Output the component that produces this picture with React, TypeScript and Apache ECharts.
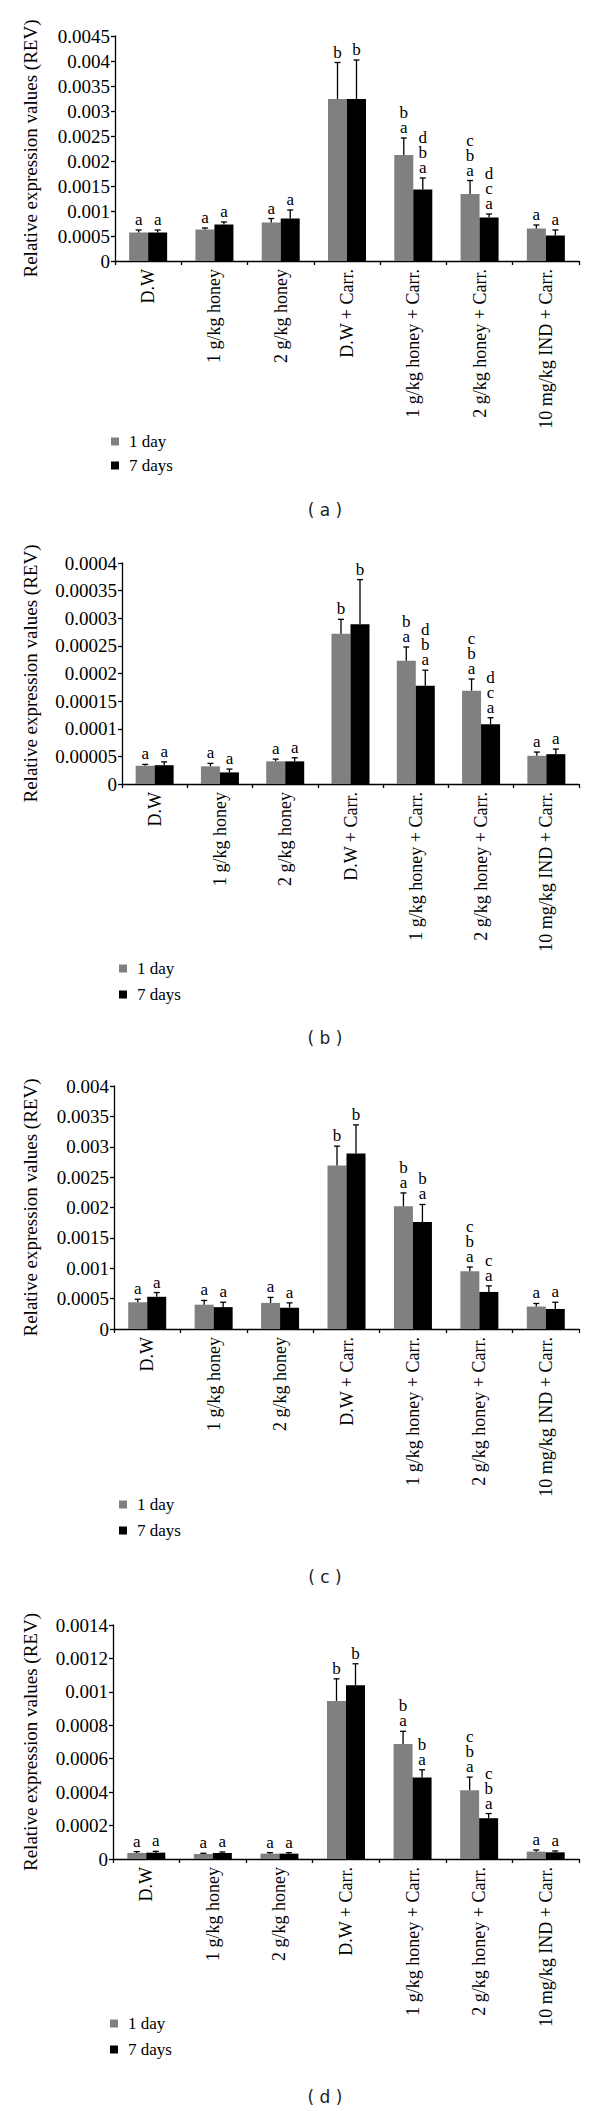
import React, { useEffect, useRef } from "react";
import * as echarts from "echarts";

// ---------- data ----------
const categories = [
  "D.W",
  "1 g/kg honey",
  "2 g/kg honey",
  "D.W + Carr.",
  "1 g/kg honey + Carr.",
  "2 g/kg honey + Carr.",
  "10 mg/kg IND + Carr.",
];
const seriesNames = ["1 day", "7 days"];
const panelLabels = ["( a )", "( b )", "( c )", "( d )"];
const yTitle = "Relative expression values (REV)";

// panel (a)
const aDay1 = [0.00057, 0.00063, 0.00077, 0.00324, 0.00212, 0.00134, 0.00065];
const aDay1Sd = [0.00005, 0.00003, 0.00008, 0.00073, 0.00034, 0.00027, 0.00007];
const aDay7 = [0.00057, 0.00073, 0.00085, 0.00324, 0.00143, 0.00087, 0.00051];
const aDay7Sd = [0.00005, 0.00005, 0.00017, 0.00078, 0.00023, 0.00007, 0.00011];
const aDay1Letters = ["a", "a", "a", "b", "b\na", "c\nb\na", "a"];
const aDay7Letters = ["a", "a", "a", "b", "d\nb\na", "d\nc\na", "a"];
const aYMax = 0.0045;
const aYStep = 0.0005;

// panel (b)
const bDay1 = [0.000033, 0.000032, 0.000041, 0.000272, 0.000223, 0.000169, 0.000051];
const bDay1Sd = [0.0000025, 0.0000053, 0.000004, 0.000026, 0.000025, 0.000021, 0.0000068];
const bDay7 = [0.000034, 0.000021, 0.000041, 0.000289, 0.000178, 0.000108, 0.000054];
const bDay7Sd = [0.000006, 0.000006, 0.0000065, 0.000081, 0.000028, 0.000012, 0.0000092];
const bDay1Letters = ["a", "a", "a", "b", "b\na", "c\nb\na", "a"];
const bDay7Letters = ["a", "a", "a", "b", "d\nb\na", "d\nc\na", "a"];
const bYMax = 0.0004;
const bYStep = 0.00005;

// panel (c)
const cDay1 = [0.00044, 0.0004, 0.00043, 0.00269, 0.00202, 0.00095, 0.00037];
const cDay1Sd = [0.00005, 0.00007, 0.00009, 0.00032, 0.00022, 0.00007, 0.00005];
const cDay7 = [0.00053, 0.00036, 0.00035, 0.00289, 0.00176, 0.00061, 0.00033];
const cDay7Sd = [0.00007, 0.00008, 0.00008, 0.00047, 0.00029, 0.0001, 0.00011];
const cDay1Letters = ["a", "a", "a", "b", "b\na", "c\nb\na", "a"];
const cDay7Letters = ["a", "a", "a", "b", "b\na", "c\na", "a"];
const cYMax = 0.004;
const cYStep = 0.0005;

// panel (d)
const dDay1 = [0.000036, 0.00003, 0.000032, 0.000946, 0.000688, 0.000412, 0.000044];
const dDay1Sd = [0.000008, 0.000004, 0.000006, 0.000132, 0.000076, 0.000078, 0.00001];
const dDay7 = [0.000038, 0.000036, 0.000032, 0.00104, 0.000488, 0.000244, 0.00004];
const dDay7Sd = [0.000008, 0.000006, 0.000006, 0.000128, 0.000046, 0.000028, 0.000008];
const dDay1Letters = ["a", "a", "a", "b", "b\na", "c\nb\na", "a"];
const dDay7Letters = ["a", "a", "a", "b", "b\na", "c\nb\na", "a"];
const dYMax = 0.0014;
const dYStep = 0.0002;

const panels = [
  { day1: aDay1, day1Sd: aDay1Sd, day7: aDay7, day7Sd: aDay7Sd, l1: aDay1Letters, l7: aDay7Letters, max: aYMax, step: aYStep },
  { day1: bDay1, day1Sd: bDay1Sd, day7: bDay7, day7Sd: bDay7Sd, l1: bDay1Letters, l7: bDay7Letters, max: bYMax, step: bYStep },
  { day1: cDay1, day1Sd: cDay1Sd, day7: cDay7, day7Sd: cDay7Sd, l1: cDay1Letters, l7: cDay7Letters, max: cYMax, step: cYStep },
  { day1: dDay1, day1Sd: dDay1Sd, day7: dDay7, day7Sd: dDay7Sd, l1: dDay1Letters, l7: dDay7Letters, max: dYMax, step: dYStep },
];

// ---------- layout (page pixels) ----------
const layouts = [
  { left: 115, top: 36, width: 464, height: 225, legendLeft: 111, legendTop: 433, legendGap: 7, labelY: 510 },
  { left: 122, top: 563, width: 457, height: 221, legendLeft: 119, legendTop: 960, legendGap: 9, labelY: 1038 },
  { left: 114, top: 1086, width: 465, height: 243, legendLeft: 119, legendTop: 1496, legendGap: 9, labelY: 1577 },
  { left: 113, top: 1625, width: 466, height: 234, legendLeft: 110, legendTop: 2015, legendGap: 9, labelY: 2097 },
];

const SERIF = '"Liberation Serif", "Times New Roman", "DejaVu Serif", serif';
const SANS = '"DejaVu Sans", "Liberation Sans", sans-serif';
const GRAY = "#808080";
const BLACK = "#000000";
const BAR_W = 19;

function fmt(v: number) {
  if (v === 0) return "0";
  return String(parseFloat(v.toPrecision(4)));
}

function buildOption() {
  const grid: any[] = [];
  const xAxis: any[] = [];
  const yAxis: any[] = [];
  const series: any[] = [];
  const legend: any[] = [];
  const graphic: any[] = [];

  panels.forEach((p, k) => {
    const L = layouts[k];
    grid.push({ left: L.left, top: L.top, width: L.width, height: L.height, containLabel: false });
    xAxis.push({
      type: "category",
      gridIndex: k,
      data: categories,
      axisLine: { lineStyle: { color: BLACK, width: 1.3 } },
      axisTick: { show: true, alignWithLabel: false, length: 4, lineStyle: { color: BLACK, width: 1.3 } },
      axisLabel: {
        interval: 0,
        rotate: 90,
        margin: 8,
        color: BLACK,
        fontFamily: SERIF,
        fontSize: 18,
      },
      splitLine: { show: false },
    });
    yAxis.push({
      type: "value",
      gridIndex: k,
      min: 0,
      max: p.max,
      interval: p.step,
      name: yTitle,
      nameLocation: "middle",
      nameGap: L.left - 40,
      nameTextStyle: { color: BLACK, fontFamily: SERIF, fontSize: 19 },
      axisLine: { show: true, lineStyle: { color: BLACK, width: 1.3 } },
      axisTick: { show: true, length: 4, lineStyle: { color: BLACK, width: 1.3 } },
      axisLabel: { color: BLACK, fontFamily: SERIF, fontSize: 19, margin: 5, formatter: (v: number) => fmt(v) },
      splitLine: { show: false },
    });

    const sets = [
      { name: seriesNames[0], vals: p.day1, sd: p.day1Sd, letters: p.l1, color: GRAY, offset: -BAR_W / 2 },
      { name: seriesNames[1], vals: p.day7, sd: p.day7Sd, letters: p.l7, color: BLACK, offset: BAR_W / 2 },
    ];
    sets.forEach((s) => {
      series.push({
        type: "bar",
        name: s.name,
        xAxisIndex: k,
        yAxisIndex: k,
        data: s.vals,
        barWidth: BAR_W,
        barGap: "0%",
        itemStyle: { color: s.color },
      });
    });
    sets.forEach((s) => {
      const letters = s.letters;
      const offset = s.offset;
      series.push({
        type: "custom",
        name: s.name,
        xAxisIndex: k,
        yAxisIndex: k,
        data: s.vals.map((v, i) => [i, v, s.sd[i]]),
        encode: { x: 0, y: 1 },
        z: 3,
        renderItem: (params: any, api: any) => {
          const i = api.value(0);
          const m = api.value(1);
          const sd = api.value(2);
          const base = api.coord([i, m]);
          const top = api.coord([i, m + sd]);
          const x = base[0] + offset;
          return {
            type: "group",
            children: [
              { type: "line", shape: { x1: x, y1: base[1], x2: x, y2: top[1] }, style: { stroke: BLACK, lineWidth: 1.3 } },
              { type: "line", shape: { x1: x - 3, y1: top[1], x2: x + 3, y2: top[1] }, style: { stroke: BLACK, lineWidth: 1.3 } },
              {
                type: "text",
                x: x,
                y: top[1] - 3,
                style: {
                  text: letters[params.dataIndex],
                  align: "center",
                  verticalAlign: "bottom",
                  fontFamily: SERIF,
                  fontSize: 17,
                  lineHeight: 15,
                  fill: BLACK,
                },
              },
            ],
          };
        },
      });
    });

    legend.push({
      orient: "vertical",
      left: L.legendLeft,
      top: L.legendTop,
      padding: 0,
      itemGap: L.legendGap,
      itemWidth: 8,
      itemHeight: 8,
      icon: "rect",
      data: seriesNames,
      textStyle: { color: BLACK, fontFamily: SERIF, fontSize: 17, lineHeight: 17, padding: [0, 0, 0, 5] },
    });

    graphic.push({
      type: "text",
      x: 325,
      y: L.labelY,
      style: {
        text: panelLabels[k],
        align: "center",
        verticalAlign: "middle",
        fontFamily: SANS,
        fontSize: 17,
        fill: "#222",
      },
    });
  });

  return {
    animation: false,
    backgroundColor: "#ffffff",
    grid,
    xAxis,
    yAxis,
    series,
    legend,
    graphic,
  };
}

export default function App() {
  const ref = useRef<HTMLDivElement>(null);
  useEffect(() => {
    if (!ref.current) return;
    const chart = echarts.init(ref.current, undefined, { renderer: "svg" });
    chart.setOption(buildOption() as any);
    return () => chart.dispose();
  }, []);
  return (
    <div
      ref={ref}
      style={{ position: "absolute", left: 0, top: 0, width: 600, height: 2111, background: "#fff" }}
    />
  );
}
